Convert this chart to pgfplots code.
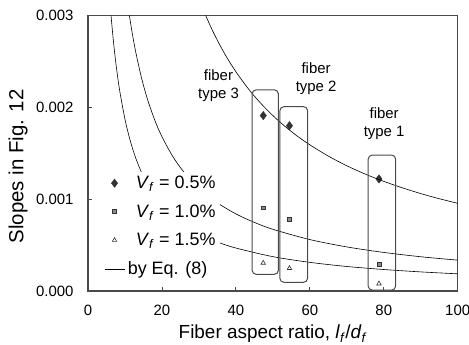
\documentclass[border=0pt]{standalone}
\usepackage{fontspec}
\setmainfont{Liberation Sans}
\usepackage{pgfplots}
\pgfplotsset{compat=1.18}
\definecolor{axgray}{HTML}{4A4A4A}
\definecolor{mkdark}{HTML}{333333}
\definecolor{sqfill}{HTML}{8C8C8C}
\pgfplotsset{eqline/.style={legend image code/.code={\draw[##1] (-1.5bp,0bp) -- (18.5bp,0bp);}}}
\begin{document}
\begin{tikzpicture}
\begin{axis}[
  at={(0,0)}, anchor=south west,
  scale only axis, width=369.7bp, height=275.5bp,
  xmin=0, xmax=100, ymin=0, ymax=0.003,
  xtick={0,20,40,60,80,100},
  ytick={0,0.001,0.002,0.003},
  scaled y ticks=false,
  yticklabel style={/pgf/number format/fixed, /pgf/number format/fixed zerofill, /pgf/number format/precision=3, xshift=-11bp},
  xticklabel style={yshift=-11bp},
  /pgf/number format/assume math mode=true,
  ticklabel style={font=\fontsize{15}{17}\selectfont},
  xtick pos=lower, ytick pos=left,
  tick align=inside, major tick length=4bp,
  axis line style={axgray, line width=1.2bp},
  every tick/.style={axgray, line width=0.8bp},
  xlabel={Fiber aspect ratio, \textit{l}\textsubscript{\textit{f}}/\textit{d}\textsubscript{\textit{f}}},
  ylabel={Slopes in Fig. 12},
  xlabel style={font=\fontsize{19}{22}\selectfont, at={(axis description cs:0.5,-0.172)}, anchor=base},
  ylabel style={font=\fontsize{20.5}{23}\selectfont, at={(axis description cs:-0.175,0.452)}, anchor=base},
  clip mode=individual,
  legend style={at={(axis description cs:0.038,0.432)}, anchor=north west, draw=none, fill=white,
    font=\fontsize{18}{21}\selectfont, row sep=10.5bp, inner sep=2bp},
  legend cell align=left,
]
\addplot[only marks, mark=diamond*, mark size=4.2bp, mkdark, mark options={fill=mkdark, draw=mkdark}]
  coordinates {(47.4,0.00191) (54.5,0.00180) (78.7,0.00122)};
\addlegendentry{\hspace{9bp}\textit{V}\textsubscript{\textit{f}} = 0.5\%}
\addplot[only marks, mark=square*, mark size=1.9bp, mark options={fill=sqfill, draw=mkdark, line width=0.6bp}]
  coordinates {(47.4,0.000907) (54.5,0.000784) (78.7,0.00029)};
\addlegendentry{\hspace{9bp}\textit{V}\textsubscript{\textit{f}} = 1.0\%}
\addplot[only marks, mark=triangle*, mark size=2.6bp, mark options={fill=white, draw=mkdark, line width=0.6bp}]
  coordinates {(47.4,0.000305) (54.5,0.000248) (78.7,0.00008)};
\addlegendentry{\hspace{9bp}\textit{V}\textsubscript{\textit{f}} = 1.5\%}
\addplot[black, line width=0.6bp, smooth, no marks, eqline]
  coordinates {(31.83,0.003) (34,0.002809) (37,0.002581) (40,0.002388) (44,0.00217) (48,0.00199) (52,0.001837) (56,0.001705) (60,0.001592) (65,0.001469) (70,0.001364) (75,0.001273) (80,0.001194) (85,0.001124) (90,0.001061) (95,0.001005) (100,0.000955)};
\addlegendentry{\hspace{1bp}by Eq. (8)}
\addplot[black, line width=0.6bp, smooth, no marks, forget plot]
  coordinates {(11.2,0.003) (12,0.0028) (13,0.002585) (14.5,0.002317) (16,0.0021) (18,0.001867) (20,0.00168) (23,0.001461) (26,0.001292) (30,0.00112) (35,0.00096) (40,0.00084) (45,0.000747) (50,0.000672) (60,0.00056) (70,0.00048) (80,0.00042) (90,0.000373) (100,0.000336)};
\addplot[black, line width=0.6bp, smooth, no marks, forget plot]
  coordinates {(6.23,0.003) (6.8,0.00275) (7.5,0.002493) (8.5,0.0022) (10,0.00187) (11.5,0.001626) (13,0.001438) (15,0.001247) (18,0.001039) (21,0.00089) (25,0.000748) (30,0.000623) (35,0.000534) (40,0.000468) (50,0.000374) (60,0.000312) (70,0.000267) (80,0.000234) (90,0.000208) (100,0.000187)};
\draw[axgray, line width=1bp, rounded corners=4bp] (axis cs:44.4,0.000182) rectangle (axis cs:51.5,0.00219);
\draw[axgray, line width=1bp, rounded corners=4bp] (axis cs:51.9,0.000095) rectangle (axis cs:59.4,0.002007);
\draw[axgray, line width=1bp, rounded corners=4bp] (axis cs:75.8,0.00001) rectangle (axis cs:83.2,0.00148);
\node[align=center, font=\fontsize{15}{18}\selectfont] at (axis cs:35.3,0.00224) {fiber\\type 3};
\node[align=center, font=\fontsize{15}{18}\selectfont] at (axis cs:61.7,0.002314) {fiber\\type 2};
\node[align=center, font=\fontsize{15}{18}\selectfont] at (axis cs:80.1,0.00182) {fiber\\type 1};
\end{axis}
\pgfresetboundingbox
\useasboundingbox (-88bp,-54bp) rectangle (381bp,291bp);
\end{tikzpicture}
\end{document}
